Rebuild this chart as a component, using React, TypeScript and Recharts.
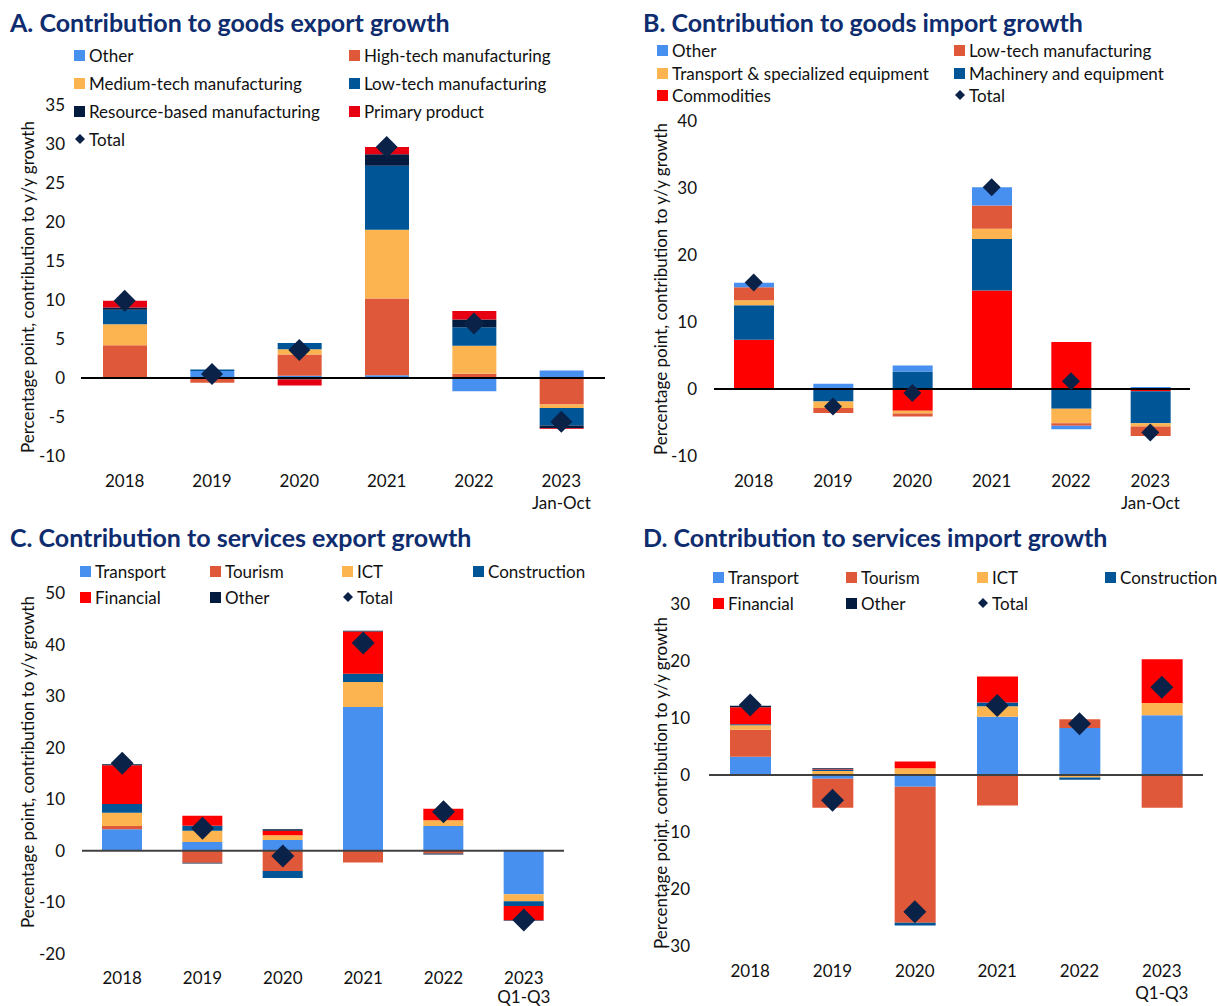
import React from "react";
import { Bar, ComposedChart, Line, ReferenceLine, XAxis, YAxis } from "recharts";

const LIGHT_BLUE = "#4790F0";
const ORANGE = "#E0583A";
const YELLOW = "#FBB450";
const DARK_BLUE = "#005596";
const NAVY = "#021B3E";
const RED = "#FF0000";
const PRIMARY_RED = "#E60012";
const DIAMOND = "#0A2148";
const TITLE = "#0E2C6E";
const FONT = "Lato, 'Open Sans', sans-serif";

// ---- data ----
const goodsCats = ["2018", "2019", "2020", "2021", "2022", "2023\nJan-Oct"];
const servCats = ["2018", "2019", "2020", "2021", "2022", "2023\nQ1-Q3"];

// A. goods exports
const aOther = [0, 0.9, 0.3, 0.35, -1.7, 0.95];
const aHighTech = [4.2, -0.6, 2.7, 9.85, 0.55, -3.4];
const aMediumTech = [2.7, 0, 0.7, 8.8, 3.6, -0.45];
const aLowTech = [1.85, 0.2, 0.8, 8.2, 2.35, -2.25];
const aResource = [0.3, 0, -0.2, 1.5, 1.0, -0.35];
const aPrimary = [0.85, 0, -0.75, 0.9, 1.1, -0.1];
const aTotal = [9.9, 0.5, 3.6, 29.6, 7.0, -5.6];
const aTicks = [-10, -5, 0, 5, 10, 15, 20, 25, 30, 35];

// B. goods imports
const bCommodities = [7.35, 0, -3.25, 14.7, 7.0, -0.35];
const bMachinery = [5.15, -1.85, 2.6, 7.7, -2.95, -4.75];
const bTransport = [0.75, -1.0, -0.4, 1.5, -2.15, -0.5];
const bLowTech = [1.95, -0.75, -0.45, 3.5, -0.4, -1.4];
const bOther = [0.65, 0.8, 0.9, 2.7, -0.5, 0.3];
const bTotal = [15.9, -2.6, -0.6, 30.1, 1.15, -6.5];
const bTicks = [-10, 0, 10, 20, 30, 40];

// C. services exports
const cTransport = [4.2, 1.7, 2.1, 27.9, 4.8, -8.4];
const cTourism = [0.6, -2.3, -3.9, -2.25, -0.5, 0];
const cIct = [2.6, 2.2, 0.95, 4.85, 1.15, -1.35];
const cConstruction = [1.7, 0.95, -1.35, 1.6, 0, -0.95];
const cFinancial = [7.5, 1.95, 0.85, 8.2, 2.2, -2.75];
const cOther = [0.2, -0.15, 0.3, 0.15, -0.2, -0.1];
const cTotal = [17.0, 4.4, -1.0, 40.3, 7.6, -13.4];
const cTicks = [-20, -10, 0, 10, 20, 30, 40, 50];

// D. services imports
const dTransport = [3.2, -0.65, -2.05, 10.2, 8.25, 10.5];
const dTourism = [4.75, -5.1, -23.85, -5.35, 1.55, -5.75];
const dIct = [0.8, 0.7, 1.2, 1.85, -0.45, 2.15];
const dConstruction = [0.15, 0.25, -0.5, 0.65, -0.4, 0];
const dFinancial = [3.0, 0.1, 1.15, 4.6, 0, 7.65];
const dOther = [0.25, 0.15, 0, 0, 0, 0];
const dTotal = [12.3, -4.45, -24.0, 12.2, 9.0, 15.4];
const dTicks = [-30, -20, -10, 0, 10, 20, 30];

type Series = { name: string; color: string; values: number[] };

type PanelProps = {
  title: string;
  titleX: number;
  titleY: number;
  left: number;
  top: number;
  width: number;
  height: number;
  margin: { top: number; right: number; bottom: number; left: number };
  yWidth: number;
  tickGap: number;
  ticks: number[];
  categories: string[];
  series: Series[];
  total: number[];
  barSize: number;
  diamondR: number;
  zeroColor: string;
  labelDy: number;
  lineGap: number;
  legendOrder: string[];
  legendCols: number[];
  legendRows: number[];
  yLabelX: number;
  yLabelY: number;
};

function diamondPath(cx: number, cy: number, r: number) {
  return `M${cx},${cy - r}L${cx + r},${cy}L${cx},${cy + r}L${cx - r},${cy}Z`;
}

function Panel(p: PanelProps) {
  const data = p.categories.map((c, i) => {
    const row: Record<string, number | string> = { cat: c, total: p.total[i] };
    p.series.forEach((s, k) => (row["s" + k] = s.values[i]));
    return row;
  });

  return (
    <>
      <div
        style={{
          position: "absolute",
          left: p.titleX,
          top: p.titleY - 15,
          lineHeight: "30px",
          fontFamily: FONT,
          fontWeight: 700,
          fontSize: 25,
          color: TITLE,
          whiteSpace: "nowrap",
        }}
      >
        {p.title}
      </div>

      {p.legendOrder.map((name, i) => {
        const x = p.legendCols[i % p.legendCols.length];
        const y = p.legendRows[Math.floor(i / p.legendCols.length)];
        const s = p.series.find((q) => q.name === name);
        return (
          <div
            key={name}
            style={{
              position: "absolute",
              left: x,
              top: y - 11,
              height: 22,
              display: "flex",
              alignItems: "center",
              fontFamily: FONT,
              fontSize: 17,
              color: "#111",
              whiteSpace: "nowrap",
            }}
          >
            {s ? (
              <span style={{ width: 11, height: 11, background: s.color, marginRight: 4 }} />
            ) : (
              <svg width={12} height={12} style={{ marginRight: 3 }}>
                <path d={diamondPath(6, 6, 5)} fill={DIAMOND} />
              </svg>
            )}
            {name}
          </div>
        );
      })}

      <div
        style={{
          position: "absolute",
          left: p.yLabelX,
          top: p.yLabelY,
          transform: "translate(-50%, -50%) rotate(-90deg)",
          fontFamily: FONT,
          fontSize: 17,
          color: "#111",
          whiteSpace: "nowrap",
        }}
      >
        Percentage point, contribution to y/y growth
      </div>

      <div style={{ position: "absolute", left: p.left, top: p.top }}>
        <ComposedChart
          width={p.width}
          height={p.height}
          data={data}
          margin={p.margin}
          stackOffset="sign"
          barGap={0}
        >
          <XAxis
            dataKey="cat"
            axisLine={false}
            tickLine={false}
            tickSize={0}
            tickMargin={0}
            height={50}
            interval={0}
            tick={(t: any) => {
              const lines = String(t.payload.value).split("\n");
              return (
                <text
                  x={t.x}
                  y={t.y}
                  textAnchor="middle"
                  fill="#111"
                  fontSize={17}
                  fontFamily={FONT}
                >
                  {lines.map((l, i) => (
                    <tspan key={i} x={t.x} dy={i === 0 ? p.labelDy : p.lineGap}>
                      {l}
                    </tspan>
                  ))}
                </text>
              );
            }}
          />
          <YAxis
            type="number"
            domain={[p.ticks[0], p.ticks[p.ticks.length - 1]]}
            ticks={p.ticks}
            interval={0}
            width={p.yWidth}
            axisLine={false}
            tickLine={false}
            tickSize={0}
            tickMargin={p.tickGap}
            tick={{ fontSize: 17, fill: "#111", fontFamily: FONT }}
          />
          {p.series.map((s, k) => (
            <Bar
              key={s.name}
              dataKey={"s" + k}
              name={s.name}
              stackId="a"
              fill={s.color}
              barSize={p.barSize}
              isAnimationActive={false}
            />
          ))}
          <ReferenceLine y={0} stroke={p.zeroColor} strokeWidth={2} />
          <Line
            dataKey="total"
            name="Total"
            stroke="none"
            isAnimationActive={false}
            activeDot={false}
            dot={(d: any) => (
              <path key={d.index} d={diamondPath(d.cx, d.cy, p.diamondR)} fill={DIAMOND} />
            )}
          />
        </ComposedChart>
      </div>
    </>
  );
}

export default function App() {
  const goodsExport: Series[] = [
    { name: "Other", color: LIGHT_BLUE, values: aOther },
    { name: "High-tech manufacturing", color: ORANGE, values: aHighTech },
    { name: "Medium-tech manufacturing", color: YELLOW, values: aMediumTech },
    { name: "Low-tech manufacturing", color: DARK_BLUE, values: aLowTech },
    { name: "Resource-based manufacturing", color: NAVY, values: aResource },
    { name: "Primary product", color: PRIMARY_RED, values: aPrimary },
  ];
  const goodsImport: Series[] = [
    { name: "Commodities", color: RED, values: bCommodities },
    { name: "Machinery and equipment", color: DARK_BLUE, values: bMachinery },
    { name: "Transport & specialized equipment", color: YELLOW, values: bTransport },
    { name: "Low-tech manufacturing", color: ORANGE, values: bLowTech },
    { name: "Other", color: LIGHT_BLUE, values: bOther },
  ];
  const servExport: Series[] = [
    { name: "Transport", color: LIGHT_BLUE, values: cTransport },
    { name: "Tourism", color: ORANGE, values: cTourism },
    { name: "ICT", color: YELLOW, values: cIct },
    { name: "Construction", color: DARK_BLUE, values: cConstruction },
    { name: "Financial", color: RED, values: cFinancial },
    { name: "Other", color: NAVY, values: cOther },
  ];
  const servImport: Series[] = [
    { name: "Transport", color: LIGHT_BLUE, values: dTransport },
    { name: "Tourism", color: ORANGE, values: dTourism },
    { name: "ICT", color: YELLOW, values: dIct },
    { name: "Construction", color: DARK_BLUE, values: dConstruction },
    { name: "Financial", color: RED, values: dFinancial },
    { name: "Other", color: NAVY, values: dOther },
  ];

  return (
    <div
      style={{
        position: "absolute",
        left: 0,
        top: 0,
        width: 1217,
        height: 1006,
        overflow: "hidden",
        background: "#fff",
      }}
    >
      <Panel
        title="A. Contribution to goods export growth"
        titleX={10}
        titleY={22}
        left={0}
        top={0}
        width={612}
        height={520}
        margin={{ top: 105, right: 7, bottom: 14, left: 0 }}
        yWidth={81}
        tickGap={16}
        ticks={aTicks}
        categories={goodsCats}
        series={goodsExport}
        total={aTotal}
        barSize={44}
        diamondR={11}
        zeroColor="#000"
        labelDy={31}
        lineGap={22}
        legendOrder={[
          "Other",
          "High-tech manufacturing",
          "Medium-tech manufacturing",
          "Low-tech manufacturing",
          "Resource-based manufacturing",
          "Primary product",
          "Total",
        ]}
        legendCols={[74, 349]}
        legendRows={[55, 83, 111, 139]}
        yLabelX={27}
        yLabelY={287}
      />
      <Panel
        title="B. Contribution to goods import growth"
        titleX={643}
        titleY={22}
        left={612}
        top={0}
        width={605}
        height={520}
        margin={{ top: 121, right: 27, bottom: 14, left: 0 }}
        yWidth={102}
        tickGap={17}
        ticks={bTicks}
        categories={goodsCats}
        series={goodsImport}
        total={bTotal}
        barSize={40}
        diamondR={9}
        zeroColor="#000"
        labelDy={31}
        lineGap={22}
        legendOrder={[
          "Other",
          "Low-tech manufacturing",
          "Transport & specialized equipment",
          "Machinery and equipment",
          "Commodities",
          "Total",
        ]}
        legendCols={[657, 954]}
        legendRows={[50, 73, 95]}
        yLabelX={660}
        yLabelY={289}
      />
      <Panel
        title="C. Contribution to services export growth"
        titleX={10}
        titleY={537}
        left={0}
        top={520}
        width={612}
        height={486}
        margin={{ top: 73, right: 48, bottom: 2, left: 0 }}
        yWidth={82}
        tickGap={17}
        ticks={cTicks}
        categories={servCats}
        series={servExport}
        total={cTotal}
        barSize={40}
        diamondR={11.5}
        zeroColor="#404040"
        labelDy={30}
        lineGap={19}
        legendOrder={["Transport", "Tourism", "ICT", "Construction", "Financial", "Other", "Total"]}
        legendCols={[80, 210, 342, 473]}
        legendRows={[571, 597]}
        yLabelX={27}
        yLabelY={762}
      />
      <Panel
        title="D. Contribution to services import growth"
        titleX={643}
        titleY={537}
        left={612}
        top={520}
        width={605}
        height={486}
        margin={{ top: 84, right: 14, bottom: 10, left: 0 }}
        yWidth={97}
        tickGap={19}
        ticks={dTicks}
        categories={servCats}
        series={servImport}
        total={dTotal}
        barSize={41}
        diamondR={11.5}
        zeroColor="#404040"
        labelDy={31}
        lineGap={22}
        legendOrder={["Transport", "Tourism", "ICT", "Construction", "Financial", "Other", "Total"]}
        legendCols={[713, 846, 977, 1105]}
        legendRows={[577, 603]}
        yLabelX={660}
        yLabelY={783}
      />
    </div>
  );
}
